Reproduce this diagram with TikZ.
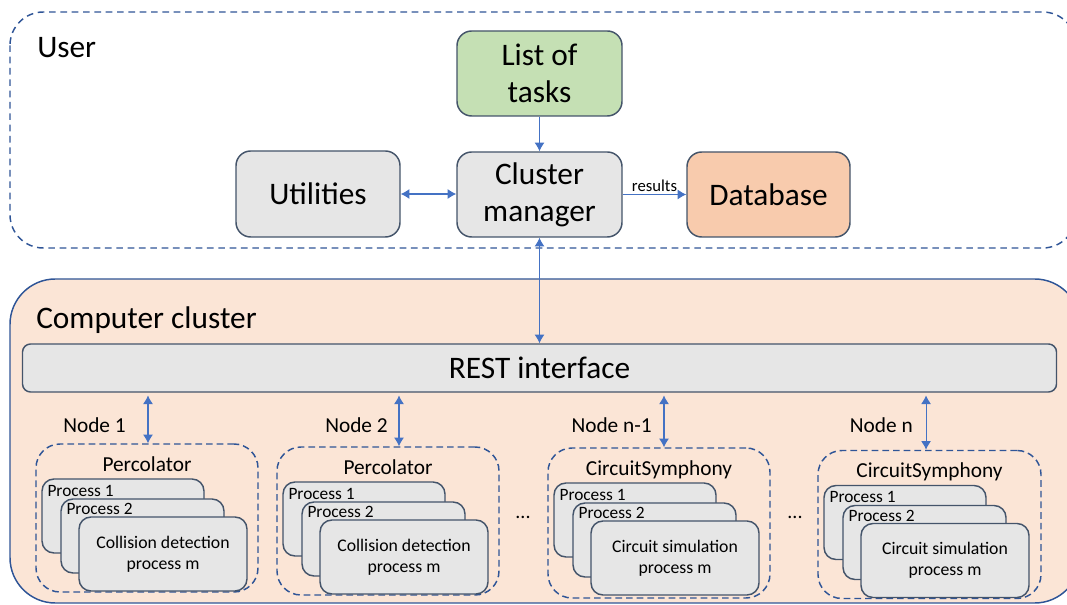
\documentclass[tikz,border=0pt]{standalone}
\usepackage{fontspec}
\setmainfont{Carlito}
\usepackage{tikz}
\usetikzlibrary{positioning, arrows.meta}

\definecolor{frameblue}{HTML}{2F5597}
\definecolor{arrowblue}{HTML}{4472C4}
\definecolor{boxline}{HTML}{44546A}
\definecolor{boxgray}{HTML}{E6E6E6}
\definecolor{clusterfill}{HTML}{FBE5D6}
\definecolor{taskgreen}{HTML}{C5E0B4}
\definecolor{dborange}{HTML}{F8CBAD}

\begin{document}
\begin{tikzpicture}[x=0.75pt, y=-0.75pt,
        >={Latex[length=6.5pt,width=7.5pt]},
        big/.style={font=\fontsize{23.5}{27.75}\selectfont},
        box/.style={draw=boxline, line width=1.1pt, fill=boxgray, rounded corners=11pt,
            align=center, inner sep=0pt, big, minimum width=123.75pt, minimum height=63.75pt},
        group/.style={draw=frameblue, line width=1.1pt, dash pattern=on 5pt off 3pt,
            rounded corners=18pt, minimum width=166.5pt, minimum height=111pt, inner sep=0pt},
        proc/.style={draw=boxline, line width=1.1pt, fill=boxgray, rounded corners=9pt,
            anchor=north west, minimum height=55.5pt, inner sep=0pt, align=center,
            font=\fontsize{13.3}{15.75}\selectfont},
        proclabel/.style={anchor=base west, inner sep=0pt, font=\fontsize{13}{15}\selectfont},
        grouptitle/.style={anchor=base, inner sep=0pt, font=\fontsize{16}{19}\selectfont},
        nodelabel/.style={anchor=base east, inner sep=0pt, font=\fontsize{16}{19}\selectfont},
        link/.style={draw=arrowblue, line width=0.8pt}]
    \useasboundingbox (0,0) rectangle (1067,605);

    % frames
    \draw[fill=clusterfill, draw=frameblue, line width=1.1pt, rounded corners=34pt]
        (10,279) rectangle (1080,603);
    \draw[draw=frameblue, line width=1.1pt, dash pattern=on 5pt off 3.5pt, rounded corners=25pt]
        (10,12) rectangle (1076,248);
    \node[big, anchor=base west, inner sep=0pt] (user) at (37,58) {User};
    \node[big, anchor=base west, inner sep=0pt] (cluster) at (36,329) {Computer cluster};

    % user side
    \node[box, fill=taskgreen] (tasks) at (539.5,73.5) {List of\\tasks};
    \node[box] (manager) at (539.5,194.5) {Cluster\\manager};
    \node[box, minimum width=123pt, minimum height=64.5pt] (utils) at (318,194) {Utilities};
    \node[box, fill=dborange, minimum width=122.25pt] (db) at (768.5,194.5) {Database};
    \node[box, rounded corners=6pt, minimum width=775.5pt, minimum height=36pt] (rest) at (539.5,368) {REST interface};

    \draw[link, ->] (tasks) -- (manager);
    \draw[link, <->] (utils.east) -- (utils.east -| manager.west);
    \draw[link, ->] (manager.east |- db.west) -- node[above, inner sep=2pt, font=\fontsize{12.5}{15}\selectfont] {results} (db.west);
    \draw[link, <->] (manager) -- (rest);

    % node 1
    \node[group] (g1) at (147,518) {};
    \node[grouptitle] at ([yshift=-21pt]g1.north) {Percolator};
    \node[proc, minimum width=121.5pt] (g1a) at ([shift={(4.5pt,-26.25pt)}]g1.north west) {};
    \node[proclabel] at ([shift={(4.5pt,-13.5pt)}]g1a.north west) {Process 1};
    \node[proc, minimum width=122.25pt] (g1b) at ([shift={(18.75pt,-41.25pt)}]g1.north west) {};
    \node[proclabel] at ([shift={(4.5pt,-12.5pt)}]g1b.north west) {Process 2};
    \node[proc, minimum width=126pt] (g1m) at ([shift={(32.25pt,-54.75pt)}]g1.north west) {Collision detection\\process m};
    \coordinate (a1) at ([xshift=0.75pt]g1.north);
    \node[nodelabel] at (126,433) {Node 1};

    % node 2
    \node[group] (g2) at (388,521) {};
    \node[grouptitle] at ([yshift=-21pt]g2.north) {Percolator};
    \node[proc, minimum width=121.5pt] (g2a) at ([shift={(4.5pt,-26.25pt)}]g2.north west) {};
    \node[proclabel] at ([shift={(4.5pt,-13.5pt)}]g2a.north west) {Process 1};
    \node[proc, minimum width=122.25pt] (g2b) at ([shift={(18.75pt,-41.25pt)}]g2.north west) {};
    \node[proclabel] at ([shift={(4.5pt,-12.5pt)}]g2b.north west) {Process 2};
    \node[proc, minimum width=126pt] (g2m) at ([shift={(32.25pt,-54.75pt)}]g2.north west) {Collision detection\\process m};
    \coordinate (a2) at ([xshift=8.25pt]g2.north);
    \node[nodelabel] at (388,433) {Node 2};

    % node n-1
    \node[group, minimum height=112.5pt] (g3) at (659,523) {};
    \node[grouptitle] at ([yshift=-21pt]g3.north) {CircuitSymphony};
    \node[proc, minimum width=121.5pt] (g3a) at ([shift={(4.5pt,-26.25pt)}]g3.north west) {};
    \node[proclabel] at ([shift={(4.5pt,-13.5pt)}]g3a.north west) {Process 1};
    \node[proc, minimum width=122.25pt] (g3b) at ([shift={(18.75pt,-41.25pt)}]g3.north west) {};
    \node[proclabel] at ([shift={(4.5pt,-12.5pt)}]g3b.north west) {Process 2};
    \node[proc, minimum width=126pt] (g3m) at ([shift={(32.25pt,-54.75pt)}]g3.north west) {Circuit simulation\\process m};
    \coordinate (a3) at ([xshift=3.75pt]g3.north);
    \node[nodelabel] at (652,433) {Node n-1};

    % node n
    \node[group, minimum width=167.25pt] (g4) at (929.5,524.5) {};
    \node[grouptitle] at ([yshift=-21pt]g4.north) {CircuitSymphony};
    \node[proc, minimum width=121.5pt] (g4a) at ([shift={(4.5pt,-26.25pt)}]g4.north west) {};
    \node[proclabel] at ([shift={(4.5pt,-13.5pt)}]g4a.north west) {Process 1};
    \node[proc, minimum width=122.25pt] (g4b) at ([shift={(18.75pt,-41.25pt)}]g4.north west) {};
    \node[proclabel] at ([shift={(4.5pt,-12.5pt)}]g4b.north west) {Process 2};
    \node[proc, minimum width=126pt] (g4m) at ([shift={(32.25pt,-54.75pt)}]g4.north west) {Circuit simulation\\process m};
    \coordinate (a4) at ([xshift=-2.6pt]g4.north);
    \node[nodelabel] at (913,433) {Node n};

    \node[font=\fontsize{15}{18}\selectfont] (dots1) at (523,517) {...};
    \node[font=\fontsize{15}{18}\selectfont] (dots2) at (795,517) {...};

    \draw[link, <->] ([yshift=-2pt]rest.south -| a1) -- (a1);
    \draw[link, <->] ([yshift=-2pt]rest.south -| a2) -- (a2);
    \draw[link, <->] ([yshift=-2pt]rest.south -| a3) -- (a3);
    \draw[link, <->] ([yshift=-2pt]rest.south -| a4) -- (a4);
\end{tikzpicture}
\end{document}
